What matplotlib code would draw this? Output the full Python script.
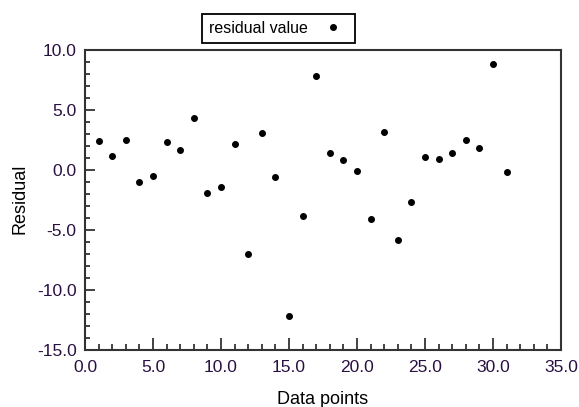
import numpy as np
import matplotlib.pyplot as plt
from matplotlib.ticker import MultipleLocator, FormatStrFormatter

plt.rcParams['font.family'] = ['Liberation Sans', 'DejaVu Sans']
plt.rcParams['axes.unicode_minus'] = False

# data
points = list(range(1, 32))
residual = [2.4, 1.2, 2.5, -1.0, -0.5, 2.3, 1.7, 4.3, -1.9, -1.4,
            2.2, -7.0, 3.1, -0.6, -12.2, -3.8, 7.8, 1.4, 0.8, -0.1,
            -4.1, 3.2, -5.8, -2.7, 1.1, 0.9, 1.4, 2.5, 1.8, 8.8, -0.2]

W, H = 579, 407
fig = plt.figure(figsize=(W / 100, H / 100), dpi=100)
ax = fig.add_axes([85 / W, 1 - 350 / H, (561 - 85) / W, 300 / H])

ax.plot(points, residual, linestyle='none', marker='o', markersize=4,
        color='black', label='residual value')

ax.set_xlim(0, 35)
ax.set_ylim(-15, 10)
ax.xaxis.set_major_locator(MultipleLocator(5))
ax.xaxis.set_minor_locator(MultipleLocator(1))
ax.yaxis.set_major_locator(MultipleLocator(5))
ax.yaxis.set_minor_locator(MultipleLocator(1))
ax.xaxis.set_major_formatter(FormatStrFormatter('%.1f'))
ax.yaxis.set_major_formatter(FormatStrFormatter('%.1f'))

ax.tick_params(which='both', direction='in', top=False, right=False,
               labelsize=12.5, width=1.2, color='#222222', labelcolor='#2a1040')
ax.tick_params(axis='x', which='major', length=8.5, pad=7)
ax.tick_params(axis='x', which='minor', length=4.3)
ax.tick_params(axis='y', which='major', length=7.2, pad=6)
ax.tick_params(axis='y', which='minor', length=3.6)

for s in ax.spines.values():
    s.set_linewidth(1.5)
    s.set_color('#333333')

ax.set_xlabel('Data points', fontsize=13)
ax.set_ylabel('Residual', fontsize=13)
ax.xaxis.set_label_coords(0.5, -0.135)
ax.yaxis.set_label_coords(-0.118, 0.505)

leg = fig.legend(loc='center', bbox_to_anchor=(278.5 / W, 1 - 28.5 / H),
                 markerfirst=False, fancybox=False, framealpha=1,
                 edgecolor='black', fontsize=11.5, handlelength=1.9,
                 handletextpad=0.6, borderpad=0.45)
leg.get_frame().set_linewidth(1.3)

fig.savefig('out.png', dpi=100)
